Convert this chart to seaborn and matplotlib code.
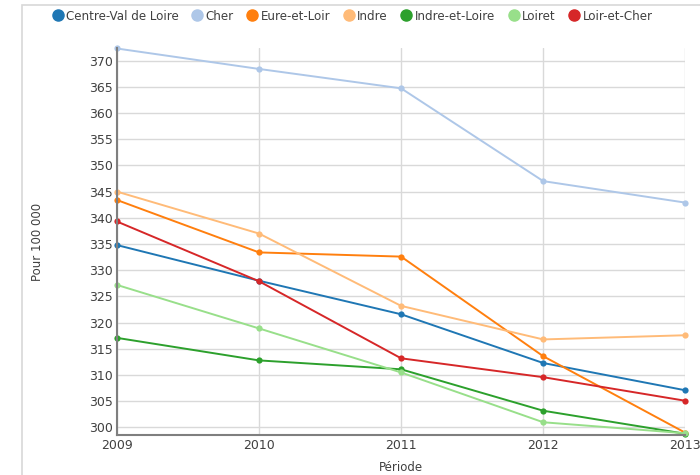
import matplotlib
matplotlib.use("Agg")
import matplotlib.pyplot as plt
import seaborn as sns
import pandas as pd
from matplotlib.patches import Rectangle

annees = [2009, 2010, 2011, 2012, 2013]
regions = ["Centre-Val de Loire", "Cher", "Eure-et-Loir", "Indre",
           "Indre-et-Loire", "Loiret", "Loir-et-Cher"]

centre_val_de_loire = [334.8, 328.0, 321.6, 312.3, 307.1]
cher = [372.3, 368.4, 364.7, 347.0, 342.9]
eure_et_loir = [343.4, 333.4, 332.6, 313.6, 299.0]
indre = [345.0, 337.0, 323.2, 316.8, 317.6]
indre_et_loire = [317.1, 312.8, 311.1, 303.2, 298.8]
loiret = [327.2, 318.9, 310.5, 301.0, 298.9]
loir_et_cher = [339.3, 327.9, 313.2, 309.6, 305.1]

couleurs = ["#1f77b4", "#aec7e8", "#ff7f0e", "#ffbb78",
            "#2ca02c", "#98df8a", "#d62728"]

series = [centre_val_de_loire, cher, eure_et_loir, indre,
          indre_et_loire, loiret, loir_et_cher]
lignes = []
for nom, valeurs in zip(regions, series):
    for annee, v in zip(annees, valeurs):
        lignes.append({"Période": annee, "Région": nom, "Valeur": v})
df = pd.DataFrame(lignes)

sns.set_style("white")
plt.rcParams["font.family"] = ["DejaVu Sans"]

fig = plt.figure(figsize=(7, 4.75), dpi=100)
ax = fig.add_axes([0.167, 0.084, 0.812, 0.815])

# cadre clair autour du graphique
fig.patches.append(Rectangle((0.032, -0.05), 1.0, 1.04, transform=fig.transFigure,
                             fill=False, edgecolor="#d8d8d8", linewidth=1.2))

sns.lineplot(data=df, x="Période", y="Valeur", hue="Région",
             hue_order=regions, palette=couleurs, marker="o",
             markersize=4.5, markeredgewidth=0, linewidth=1.4,
             legend=False, ax=ax, clip_on=False)

ax.set_xlim(2009, 2013)
ax.set_ylim(298.55, 372.4)
ax.set_xticks(annees)
ax.set_yticks(range(300, 371, 5))
ax.grid(True, color="#d9d9d9", linewidth=1)
ax.set_axisbelow(True)
ax.tick_params(length=0, labelsize=9, labelcolor="#404040", pad=3)
for s in ["top", "right"]:
    ax.spines[s].set_visible(False)
for s in ["left", "bottom"]:
    ax.spines[s].set_color("#7f7f7f")
    ax.spines[s].set_linewidth(1.5)
ax.set_xlabel("Période", fontsize=8.5, color="#404040", labelpad=6)
ax.set_ylabel("Pour 100 000", fontsize=8.5, color="#404040", labelpad=32)

# légende en haut
poignees = [plt.Line2D([], [], marker="o", linestyle="", markersize=8,
                       color=c) for c in couleurs]
fig.legend(poignees, regions, loc="upper left", bbox_to_anchor=(0.063, 1.0),
           ncol=7, frameon=False, fontsize=8.6, handlelength=0.7,
           handletextpad=0.35, columnspacing=1.2, labelcolor="#404040",
           borderaxespad=0.4)

fig.savefig("out.png", dpi=100)
